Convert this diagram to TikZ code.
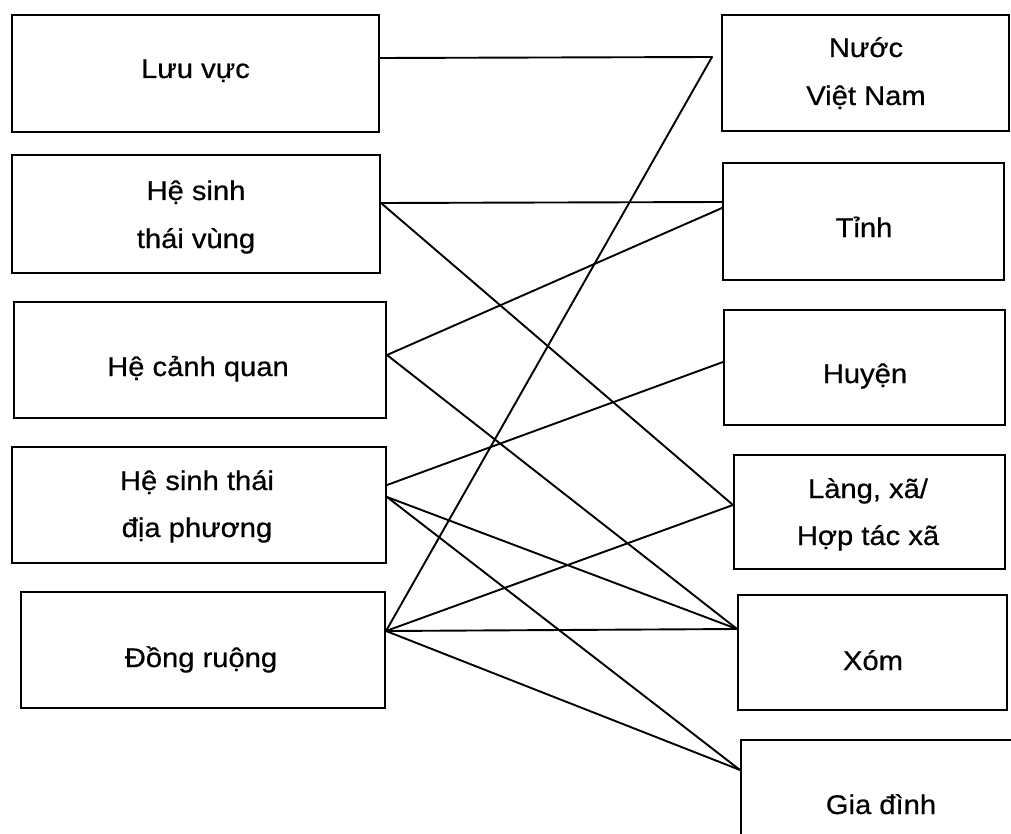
\documentclass[tikz,border=0pt]{standalone}
\usepackage{fontspec}
\setmainfont{Liberation Sans}[FakeStretch=1.08,FakeBold=0.6]
\usetikzlibrary{calc}
\begin{document}
\begin{tikzpicture}[x=1pt,y=-1pt,
  box/.style={draw, line width=2pt, rectangle, inner sep=0pt},
  lbl/.style={anchor=base, inner sep=0pt, font=\fontsize{27}{30}\selectfont},
  link/.style={line width=1.9pt, line cap=round}]
\useasboundingbox (0,0) rectangle (1011,834);
\clip (0,0) rectangle (1011,834);

% left column: ecological levels
\node[box, minimum width=367pt, minimum height=117pt] (luu)   at (195.5,73.5) {};
\node[box, minimum width=368pt, minimum height=118pt] (hstv)  at (196,214) {};
\node[box, minimum width=372pt, minimum height=116pt] (hcq)   at (200,360) {};
\node[box, minimum width=374pt, minimum height=116pt] (hstdp) at (199,505) {};
\node[box, minimum width=364pt, minimum height=116pt] (dong)  at (203,650) {};

\node[lbl] (luu-t)    at (195.5,78) {Lưu vực};
\node[lbl] (hstv-t1)  at (196,200) {Hệ sinh};
\node[lbl] (hstv-t2)  at (196,248) {thái vùng};
\node[lbl] (hcq-t)    at (198,376) {Hệ cảnh quan};
\node[lbl] (hstdp-t1) at (197,490) {Hệ sinh thái};
\node[lbl] (hstdp-t2) at (197,537) {địa phương};
\node[lbl] (dong-t)   at (201,667) {Đồng ruộng};

% right column: administrative levels
\node[box, minimum width=287pt, minimum height=116pt] (nuoc)  at (865.5,73) {};
\node[box, minimum width=281pt, minimum height=117pt] (tinh)  at (863.5,221.5) {};
\node[box, minimum width=281pt, minimum height=115pt] (huyen) at (864.5,367.5) {};
\node[box, minimum width=271pt, minimum height=114pt] (lang)  at (869.5,512) {};
\node[box, minimum width=269pt, minimum height=115pt] (xom)   at (872.5,652.5) {};
\node[box, minimum width=300pt, minimum height=130pt] (gia)   at (891,805) {};

\node[lbl] (nuoc-t1)  at (866,57) {Nước};
\node[lbl] (nuoc-t2)  at (866,105) {Việt Nam};
\node[lbl] (tinh-t)   at (864,237) {Tỉnh};
\node[lbl] (huyen-t)  at (865,383) {Huyện};
\node[lbl] (lang-t1)  at (868,498) {Làng, xã/};
\node[lbl] (lang-t2)  at (868,545) {Hợp tác xã};
\node[lbl] (xom-t)    at (873,670) {Xóm};
\node[lbl] (gia-t)    at (881,814) {Gia đình};

% connectors
\draw[link] ([yshift=15.5pt]luu.east) -- ([xshift=-9pt,yshift=16pt]nuoc.west);

\draw[link] ([yshift=11pt]hstv.east) -- ([yshift=19.5pt]tinh.west);
\draw[link] ([yshift=11pt]hstv.east) -- ([yshift=7pt]lang.west);

\draw[link] ([yshift=5pt]hcq.east) -- ([yshift=13.5pt]tinh.west);
\draw[link] ([yshift=5pt]hcq.east) -- ([yshift=23.5pt]xom.west);

\draw[link] ([yshift=20pt]hstdp.east) -- ([yshift=5.5pt]huyen.west);
\draw[link] ([yshift=8pt]hstdp.east) -- ([yshift=23.5pt]xom.west);
\draw[link] ([yshift=8pt]hstdp.east) -- ([yshift=35pt]gia.west);

\draw[link] ([yshift=19pt]dong.east) -- ([xshift=-9pt,yshift=16pt]nuoc.west);
\draw[link] ([yshift=19pt]dong.east) -- ([yshift=7pt]lang.west);
\draw[link] ([yshift=19pt]dong.east) -- ([yshift=23.5pt]xom.west);
\draw[link] ([yshift=19pt]dong.east) -- ([yshift=35pt]gia.west);
\end{tikzpicture}
\end{document}
